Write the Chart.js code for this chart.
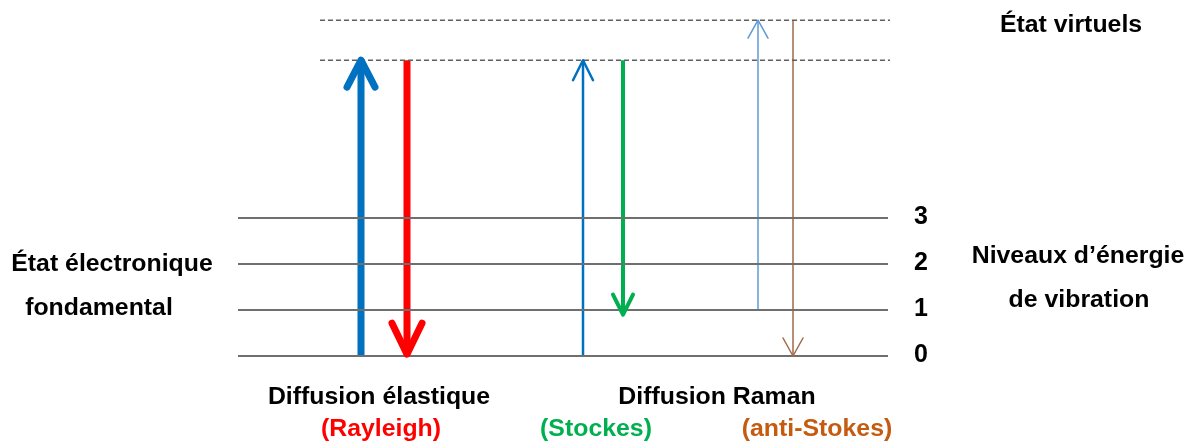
<!DOCTYPE html>
<html lang="fr">
<head>
<meta charset="UTF-8">
<title>Diffusion Rayleigh et Raman</title>
<script src="https://cdn.jsdelivr.net/npm/chart.js@4/dist/chart.umd.min.js"></script>
<style>
    body { margin: 0; padding: 0; background: #fff; }
    #wrap { width: 1199px; height: 445px; }
</style>
</head>
<body>
<div id="wrap"><canvas id="chart" width="1199" height="445"></canvas></div>
<script>
// energy levels (vibrational) and virtual states, in level units
const levelValues = [0, 1, 2, 3];
const levelLabels = ['0', '1', '2', '3'];
const virtualValues = [6.43, 7.3];
const levelSpan = [238, 888];
const virtualSpan = [320, 890];

// transitions: x position, from level, to level
const arrowNames = ['Rayleigh in', 'Rayleigh out', 'Stokes in', 'Stokes out', 'anti-Stokes in', 'anti-Stokes out'];
const arrowX = [361, 407, 583, 623, 758, 793];
const arrowFrom = [0, 6.43, 0, 6.43, 1, 7.3];
const arrowTo = [6.43, 0.04, 6.43, 0.9, 7.3, 0];
const arrowColors = ['#0070C0', '#FF0000', '#0070C0', '#00B050', '#5B9BD5', '#A0694A'];
const arrowWidths = [7, 7, 2.5, 4, 1.5, 1.5];
const headSizes = [[14, 27], [15, 31], [10, 20], [10, 20], [10, 18], [10, 18]];

// text labels
const labelTexts = ['État virtuels', 'État électronique', 'fondamental', 'Niveaux d\u2019énergie', 'de vibration',
    'Diffusion élastique', 'Diffusion Raman', '(Rayleigh)', '(Stockes)', '(anti-Stokes)'];
const labelX = [1071, 112, 99, 1078, 1079, 379, 717, 381, 596, 817];
const labelY = [7.18, 1.98, 1.02, 2.15, 1.2, -0.9, -0.9, -1.6, -1.6, -1.6];
const labelColors = ['#000', '#000', '#000', '#000', '#000', '#000', '#000', '#FF0000', '#00B050', '#C55A11'];

const datasets = [];
levelValues.forEach(v => {
    datasets.push({
        data: [{x: levelSpan[0], y: v}, {x: levelSpan[1], y: v}],
        borderColor: '#6f6f6f', borderWidth: 2, pointRadius: 0, showLine: true
    });
});
virtualValues.forEach(v => {
    datasets.push({
        data: [{x: virtualSpan[0], y: v}, {x: virtualSpan[1], y: v}],
        borderColor: '#5f5f5f', borderWidth: 1.5, borderDash: [5, 3], pointRadius: 0, showLine: true
    });
});
arrowNames.forEach((name, i) => {
    datasets.push({
        label: name,
        data: [{x: arrowX[i], y: arrowFrom[i]}, {x: arrowX[i], y: arrowTo[i]}],
        borderColor: arrowColors[i], borderWidth: arrowWidths[i], pointRadius: 0, showLine: true,
        arrowHead: headSizes[i]
    });
});

const arrowPlugin = {
    id: 'arrows',
    afterDatasetsDraw(chart) {
        const ctx = chart.ctx;
        chart.data.datasets.forEach((ds, i) => {
            if (!ds.arrowHead) return;
            const pts = chart.getDatasetMeta(i).data;
            const a = pts[0], b = pts[1];
            const dir = b.y < a.y ? 1 : -1;
            const [w, h] = ds.arrowHead;
            ctx.save();
            ctx.strokeStyle = ds.borderColor;
            ctx.lineWidth = ds.borderWidth;
            ctx.lineCap = 'round';
            ctx.lineJoin = 'round';
            ctx.beginPath();
            ctx.moveTo(b.x - w, b.y + dir * h);
            ctx.lineTo(b.x, b.y);
            ctx.lineTo(b.x + w, b.y + dir * h);
            ctx.stroke();
            ctx.restore();
        });
    }
};

// draws text stretched a little horizontally, like the original
function stretchedText(ctx, t, x, y, sx) {
    ctx.save();
    ctx.translate(x, y);
    ctx.scale(sx, 1);
    ctx.fillText(t, 0, 0);
    ctx.restore();
}

const textPlugin = {
    id: 'texts',
    afterDraw(chart) {
        const ctx = chart.ctx;
        const xs = chart.scales.x, ys = chart.scales.y;
        ctx.save();
        ctx.textAlign = 'center';
        ctx.textBaseline = 'middle';
        ctx.font = 'bold 23px "Liberation Sans", Arial, sans-serif';
        labelTexts.forEach((t, i) => {
            ctx.fillStyle = labelColors[i];
            stretchedText(ctx, t, xs.getPixelForValue(labelX[i]), ys.getPixelForValue(labelY[i]), 1.08);
        });
        ctx.font = 'bold 25px "Liberation Sans", Arial, sans-serif';
        ctx.fillStyle = '#000';
        levelValues.forEach((v, i) => {
            ctx.fillText(levelLabels[i], xs.getPixelForValue(921), ys.getPixelForValue(v) - 1);
        });
        ctx.restore();
    }
};

new Chart(document.getElementById('chart'), {
    type: 'scatter',
    data: { datasets: datasets },
    options: {
        responsive: false,
        animation: false,
        layout: { padding: 0 },
        plugins: { legend: { display: false }, tooltip: { enabled: false } },
        scales: {
            x: { type: 'linear', min: 0, max: 1199, display: false },
            y: { type: 'linear', min: -1.935, max: 7.739, display: false }
        }
    },
    plugins: [arrowPlugin, textPlugin]
});
</script>
</body>
</html>
